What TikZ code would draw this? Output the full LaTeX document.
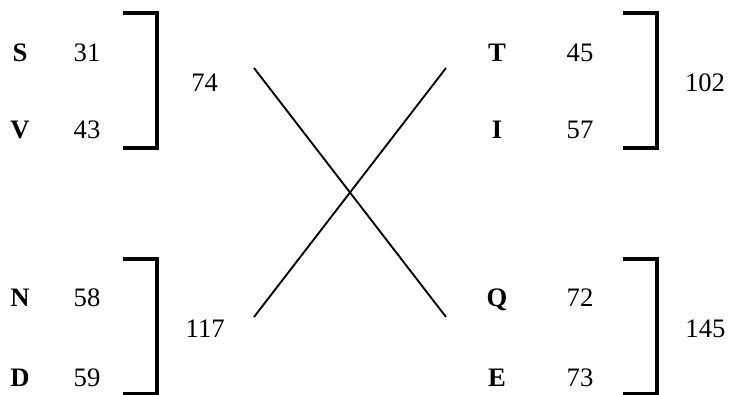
\documentclass[tikz,border=0pt]{standalone}
\usepackage{fontspec}
\setmainfont{Liberation Serif}
\usetikzlibrary{positioning, calc}
\tikzset{
  ltr/.style={font=\fontsize{20}{24}\selectfont\bfseries, inner sep=0pt, anchor=base},
  num/.style={font=\fontsize{20}{24}\selectfont, inner sep=0pt, anchor=base},
  brk/.style={line width=3pt},
  crs/.style={line width=1.4pt}
}

\begin{document}
\begin{tikzpicture}[x=0.75pt, y=-0.75pt]
	\useasboundingbox (0,0) rectangle (739,395);
	% letters and their values
	\foreach \n/\l/\v/\x/\d/\y in {s/S/31/20/67/62, v/V/43/20/67/139, n/N/58/20/67/307, d/D/59/20/67/386,
	                              t/T/45/497/83/62, i/I/57/497/83/139, q/Q/72/497/83/307, e/E/73/497/83/386} {
		\node[ltr] (\n) at (\x,\y) {\l};
		\node[num] (\n val) at (\x+\d,\y) {\v};
	}
	% brackets with sums
	\foreach \b/\s/\x/\y in {sv/74/123/13, nd/117/123/259, ti/102/623/13, qe/145/623/259} {
		\draw[brk] (\x,\y) -| ($(\x+34,\y+135)$) -- ($(\x,\y+135)$);
		\node[num] (sum\b) at ($(\x+81+\s/100,\y+79)$) {\s};
	}
	% cross
	\coordinate (ul) at (254,68);
	\coordinate (ur) at (446,68);
	\coordinate (ll) at (254,317);
	\coordinate (lr) at (446,317);
	\draw[crs] (ul) -- (lr);
	\draw[crs] (ur) -- (ll);
\end{tikzpicture}
\end{document}
